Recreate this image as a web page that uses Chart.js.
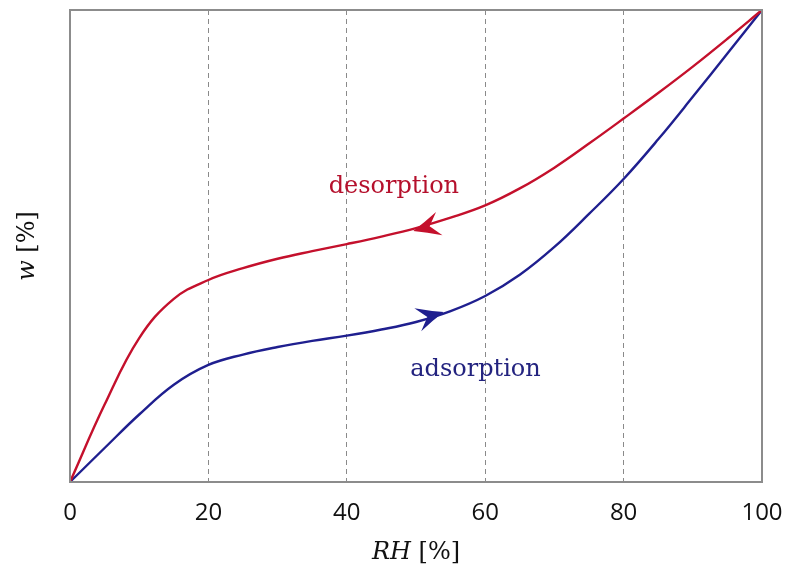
<!DOCTYPE html>
<html>
<head>
<meta charset="utf-8">
<script src="https://cdn.jsdelivr.net/npm/chart.js@4/dist/chart.umd.min.js"></script>
<style>
  html, body { margin: 0; padding: 0; background: #fff; }
  #wrap { width: 787px; height: 576px; }
</style>
</head>
<body>
<div id="wrap"><canvas id="chart" width="787" height="576"></canvas></div>
<script>
'use strict';

// ─── Data ─────────────────────────────────────────────────────────────────────
const rhValues   = [0, 5, 10, 15, 20, 25, 30, 35, 40, 45, 50, 55, 60, 65, 70, 75, 80, 85, 90, 95, 100];
const desorption = [0, 16.4, 30.5, 38.8, 42.8, 45.3, 47.3, 48.9, 50.4, 52.0, 53.8, 56.0, 58.6, 62.2, 66.6, 71.7, 77.0, 82.4, 88.0, 93.9, 100];
const adsorption = [0, 7.2, 14.3, 20.6, 24.8, 27.0, 28.6, 29.9, 31.0, 32.3, 33.9, 36.2, 39.4, 43.9, 49.8, 56.8, 64.2, 72.6, 81.6, 90.8, 100];
const xTicks     = [0, 20, 40, 60, 80, 100];

// arrowheads and curve labels, in data units
const arrows = [
  { tip: [49.6, 53.2], back: [55, 55.4], color: '#c4102c' },
  { tip: [54.0, 36.0], back: [48, 33.4], color: '#1f1f8f' },
];
const curveLabels = [
  { text: 'desorption', at: [46.8, 62.5], color: '#b5102c' },
  { text: 'adsorption', at: [58.6, 23.7], color: '#23237f' },
];

const RED  = '#c4102c';
const BLUE = '#1f1f8f';
const AXIS_GREY = '#8c8c8c';

const toPoints = ys => rhValues.map((x, i) => ({ x, y: ys[i] }));

// ─── Plugins ──────────────────────────────────────────────────────────────────
const decorations = {
  id: 'decorations',
  afterDatasetsDraw(chart) {
    const { ctx, chartArea: a, scales: { x, y } } = chart;
    ctx.save();

    // frame
    ctx.strokeStyle = AXIS_GREY;
    ctx.lineWidth = 2;
    ctx.strokeRect(a.left, a.top, a.right - a.left, a.bottom - a.top);

    // arrowheads
    arrows.forEach(ar => {
      const tx = x.getPixelForValue(ar.tip[0]), ty = y.getPixelForValue(ar.tip[1]);
      const bx = x.getPixelForValue(ar.back[0]), by = y.getPixelForValue(ar.back[1]);
      const ang = Math.atan2(ty - by, tx - bx);
      ctx.save();
      ctx.translate(tx, ty);
      ctx.rotate(ang);
      ctx.fillStyle = ar.color;
      ctx.beginPath();
      ctx.moveTo(0, 0);
      ctx.quadraticCurveTo(-13, -5, -27, -12);
      ctx.lineTo(-17, 0);
      ctx.lineTo(-27, 12);
      ctx.quadraticCurveTo(-13, 5, 0, 0);
      ctx.closePath();
      ctx.fill();
      ctx.restore();
    });

    // curve labels
    ctx.font = '24px "DejaVu Serif", serif';
    ctx.textAlign = 'center';
    ctx.textBaseline = 'middle';
    curveLabels.forEach(l => {
      ctx.fillStyle = l.color;
      ctx.fillText(l.text, x.getPixelForValue(l.at[0]), y.getPixelForValue(l.at[1]));
    });

    // axis titles: italic symbol + upright unit
    ctx.fillStyle = '#111';
    ctx.textBaseline = 'alphabetic';
    const drawTitle = (sym, unit, cx, cy, rot) => {
      ctx.save();
      ctx.translate(cx, cy);
      ctx.rotate(rot);
      const fi = 'italic 24px "DejaVu Serif", serif';
      const fn = '24px "DejaVu Serif", serif';
      ctx.font = fi; const w1 = ctx.measureText(sym).width;
      ctx.font = fn; const w2 = ctx.measureText(unit).width;
      const sx = -(w1 + w2) / 2;
      ctx.textAlign = 'left';
      ctx.font = fi; ctx.fillText(sym, sx, 8);
      ctx.font = fn; ctx.fillText(unit, sx + w1, 8);
      ctx.restore();
    };
    drawTitle('RH', ' [%]', (a.left + a.right) / 2, 551, 0);
    drawTitle('w', ' [%]', 26, (a.top + a.bottom) / 2, -Math.PI / 2);

    ctx.restore();
  },
};

// ─── Chart ────────────────────────────────────────────────────────────────────
new Chart(document.getElementById('chart').getContext('2d'), {
  type: 'line',
  data: {
    datasets: [
      {
        label: 'desorption',
        data: toPoints(desorption),
        borderColor: RED,
        borderWidth: 2.4,
        pointRadius: 0,
        tension: 0.4,
        fill: false,
      },
      {
        label: 'adsorption',
        data: toPoints(adsorption),
        borderColor: BLUE,
        borderWidth: 2.4,
        pointRadius: 0,
        tension: 0.4,
        fill: false,
      },
    ],
  },
  options: {
    responsive: false,
    animation: false,
    clip: false,
    layout: { padding: { top: 10, right: 25, left: 0, bottom: 0 } },
    plugins: { legend: { display: false }, tooltip: { enabled: false } },
    scales: {
      x: {
        type: 'linear',
        min: 0, max: 100,
        afterBuildTicks: s => { s.ticks = xTicks.map(v => ({ value: v })); },
        afterFit: s => { s.height = 94; s.paddingLeft = 0; s.paddingRight = 0; },
        ticks: {
          color: '#111',
          padding: 17,
          font: { family: '"Open Sans", sans-serif', size: 24 },
          maxRotation: 0,
        },
        grid: {
          drawTicks: false,
          color: c => (c.tick && (c.tick.value === 0 || c.tick.value === 100)) ? 'rgba(0,0,0,0)' : '#8a8a8a',
          lineWidth: 1,
        },
        border: { display: false, dash: [5, 4] },
      },
      y: {
        min: 0, max: 100,
        afterFit: s => { s.width = 70; },
        ticks: { display: false },
        grid: { display: false, drawTicks: false },
        border: { display: false },
      },
    },
  },
  plugins: [decorations],
});
</script>
</body>
</html>
